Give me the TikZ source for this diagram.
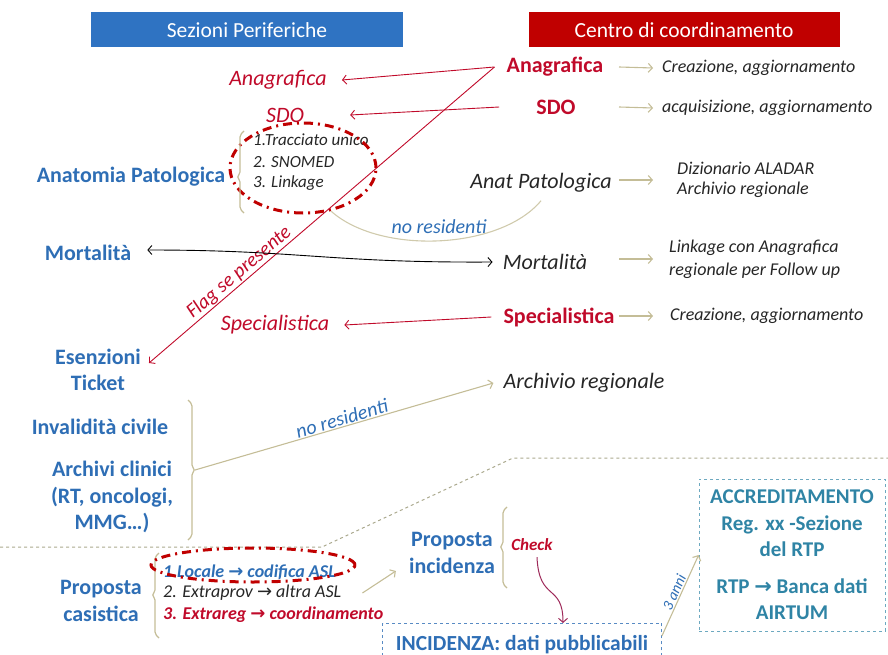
\documentclass[tikz,border=0pt]{standalone}
\usepackage{fontspec}
\setmainfont{Carlito}
\newfontfamily\arrowfont{DejaVu Sans}
\usetikzlibrary{shapes.geometric,arrows.meta}

\definecolor{hdrblue}{HTML}{2F73C2}
\definecolor{hdrred}{HTML}{C00000}
\definecolor{tblue}{HTML}{2E6EB5}
\definecolor{tteal}{HTML}{2F84A5}
\definecolor{tred}{HTML}{C00A2A}
\definecolor{tdark}{HTML}{262626}
\definecolor{olivec}{HTML}{C4BD97}
\definecolor{dashc}{HTML}{ABA98E}
\definecolor{checkc}{HTML}{9E2A5A}

\newcommand{\setfs}[2]{\fontsize{#1}{#2}\selectfont}
\newcommand{\rarr}{{\arrowfont →}}

\begin{document}
\begin{tikzpicture}[x=1pt,y=-1pt,
        >={Straight Barb[length=4pt,width=9pt]},
        every node/.style={inner sep=0pt},
        hdrbox/.style={text=white,minimum height=35pt,font=\setfs{21.5}{25}},
        bluelbl/.style={text=tblue,inner xsep=8pt,font=\setfs{22}{26.5}\bfseries},
        redhead/.style={text=tred,inner xsep=12pt,font=\setfs{22}{26}\bfseries},
        redit/.style={text=tred,inner xsep=15pt,font=\setfs{22}{26}\itshape},
        blackit/.style={text=tdark,inner xsep=10pt,font=\setfs{22}{26}\itshape},
        descr/.style={text=tdark,anchor=west,font=\setfs{18}{22}\itshape},
        listit/.style={text=tdark,anchor=west,font=\setfs{17}{20}\itshape},
        caslist/.style={anchor=west,font=\setfs{18}{21}\itshape},
        bluit/.style={text=tblue,font=\setfs{20}{24}\itshape},
        redring/.style={ellipse,draw=hdrred,line width=3pt,
          dash pattern=on 9pt off 5pt on 2pt off 5pt},
        brace/.style={draw=olivec,line width=1.2pt,rounded corners=2pt},
        redarrow/.style={->,draw=tred,line width=0.9pt},
        olivearrow/.style={->,draw=olivec,line width=1.1pt},
        dashbox/.style={draw=tteal!70,dashed,line width=0.8pt,
          text=tteal,font=\setfs{21.5}{26.5}\bfseries}]
        \useasboundingbox (0,0) rectangle (888,655) ;
        \clip (0,0) rectangle (888,655) ;

        % intestazioni
        \node[hdrbox,fill=hdrblue,minimum width=312pt] (perif) at (247,30) {Sezioni Periferiche} ;
        \node[hdrbox,fill=hdrred,minimum width=311pt] (coord) at (684,30) {Centro di coordinamento} ;

        % centro di coordinamento
        \node[redhead] (anaR) at (555,67) {Anagrafica} ;
        \node[redhead] (sdoR) at (556,107) {SDO} ;
        \node[blackit] (anatR) at (541,183) {Anat Patologica} ;
        \node[blackit] (mortR) at (545,262) {Mortalità} ;
        \node[redhead] (specR) at (559,317) {Specialistica} ;
        \node[blackit] (archR) at (584,383) {Archivio regionale} ;

        \node[descr] (creaz1) at (662,68) {Creazione, aggiornamento} ;
        \node[descr] (acquis) at (662,108) {acquisizione, aggiornamento} ;
        \node[descr,align=left,font=\setfs{18}{20}\itshape] (dizion) at (677,180) {Dizionario ALADAR\\Archivio regionale} ;
        \node[descr,align=left,font=\setfs{18}{23}\itshape] (linkage) at (669,259) {Linkage con Anagrafica\\regionale per Follow up} ;
        \node[descr] (creaz2) at (670,316) {Creazione, aggiornamento} ;

        \coordinate (acol) at (619,0) ;
        \coordinate (bcol) at (653,0) ;
        \draw[olivearrow] (acol |- anaR) -- (bcol |- creaz1) ;
        \draw[olivearrow] (acol |- sdoR) -- (bcol |- acquis) ;
        \draw[olivearrow] (acol |- dizion) -- (bcol |- dizion) ;
        \draw[olivearrow] (acol |- linkage) -- (bcol |- linkage) ;
        \draw[olivearrow] (acol |- creaz2) -- (bcol |- creaz2) ;

        % sezioni periferiche
        \node[redit] (anaL) at (278,80) {Anagrafica} ;
        \node[redit] (sdoL) at (285,115) {SDO} ;
        \node[bluelbl] (anatL) at (131,177) {Anatomia Patologica} ;
        \node[listit] (trac) at (253,140) {1.Tracciato unico} ;
        \node[listit] (snomed) at (253,162) {2. SNOMED} ;
        \node[listit] (linkg) at (253,183) {3. Linkage} ;
        \node[redring,minimum width=146pt,minimum height=90pt] (ringap) at (303,168) {} ;
        \node[bluelbl] (mortL) at (88,253) {Mortalità} ;
        \node[redit] (specL) at (275,325) {Specialistica} ;
        \node[bluelbl,align=center] (esen) at (98,370) {Esenzioni\\Ticket} ;
        \node[bluelbl] (inval) at (100,427) {Invalidità civile} ;
        \node[bluelbl,align=center] (archcl) at (112,497) {Archivi clinici\\(RT, oncologi,\\MMG…)} ;

        % graffe
        \draw[brace] (244,131) -- (240,135) -- (240,174) -- (237,177) -- (240,180) -- (240,209) -- (244,213) ;
        \draw[brace] (188,400) -- (192,404) -- (192,467) -- (195,470) -- (192,473) -- (192,536) -- (188,540) ;
        \coordinate (archmid) at (195,470) ;
        \draw[brace] (159,553) -- (155,557) -- (155,592) -- (152,595) -- (155,598) -- (155,634) -- (159,638) ;
        \draw[brace] (507,507) -- (503,511) -- (503,544) -- (500,547) -- (503,550) -- (503,584) -- (507,588) ;

        \draw[redarrow] (anaR.west) -- (anaL.east) ;
        \draw[redarrow] ([xshift=-25pt]sdoR.west) -- ([xshift=31pt]sdoL.east) ;
        \draw[redarrow] (anaR.west) -- ([yshift=7pt]esen.east)
        node[sloped,above=1pt,pos=0.72,text=tred,font=\setfs{20}{24}\itshape] {Flag se presente} ;
        \draw[redarrow] (specR.west) -- (specL.east) ;
        \draw[<->,line width=0.9pt] ([xshift=8pt,yshift=3pt]mortL.east) .. controls (300,250) and (330,263) .. (mortR.west) ;

        \draw[draw=olivec!80,line width=1.1pt] (ringap.-57) .. controls (380,255) and (500,250) .. ([yshift=-8pt]anatR.south)
        node[midway,above=7pt,bluit] {no residenti} ;
        \draw[olivearrow] (archmid) -- (archR.west)
        node[midway,sloped,above=1pt,bluit] {no residenti} ;

        % linea di separazione
        \draw[dashc,dashed,line width=1pt] (0,547) -- (322,547) -- (513,458) -- (888,458) ;

        % proposta casistica
        \node[bluelbl,align=center] (propcas) at (101,601) {Proposta\\casistica} ;
        \node[caslist,text=tblue,font=\setfs{18}{21}\bfseries\itshape] (cas1) at (163,572) {1.Locale \rarr{} codifica ASL} ;
        \node[caslist,text=tdark] (cas2) at (163,593) {2. Extraprov \rarr{} altra ASL} ;
        \node[caslist,text=tred,font=\setfs{18}{21}\bfseries\itshape] (cas3) at (163,615) {3. Extrareg \rarr{} coordinamento} ;
        \node[redring,minimum width=204pt,minimum height=34pt] (ringloc) at (253,565) {} ;

        \node[bluelbl,align=center] (propinc) at (452,553) {Proposta\\incidenza} ;
        \node[text=tred,font=\setfs{17}{20}\bfseries\itshape] (check) at (532,545) {Check} ;
        \node[dashbox,draw=tblue!80,text=tblue,anchor=north,minimum width=279pt,minimum height=42pt] (incid) at (522,623) {INCIDENZA: dati pubblicabili} ;
        \node[dashbox,align=center,minimum width=186pt,minimum height=152pt,font=\setfs{21}{26.5}\bfseries] (accr) at (792,555)
        {ACCREDITAMENTO\\Reg. xx -Sezione\\del RTP\\[10pt]RTP \rarr{} Banca dati\\AIRTUM} ;

        \draw[olivearrow] ([xshift=21pt]cas2.east) -- ([xshift=-5pt,yshift=-18pt]propinc.west) ;
        \draw[->,draw=checkc,line width=1pt] ([xshift=5pt,yshift=-6pt]check.south) .. controls +(2,45) and +(0,-40) .. ([xshift=41pt]incid.north) ;
        \draw[olivearrow] ([yshift=-13pt]incid.north east) -- (accr.west)
        node[midway,sloped,above=1pt,text=tblue,font=\setfs{15}{18}\itshape] {3 anni} ;
      \end{tikzpicture}
\end{document}
